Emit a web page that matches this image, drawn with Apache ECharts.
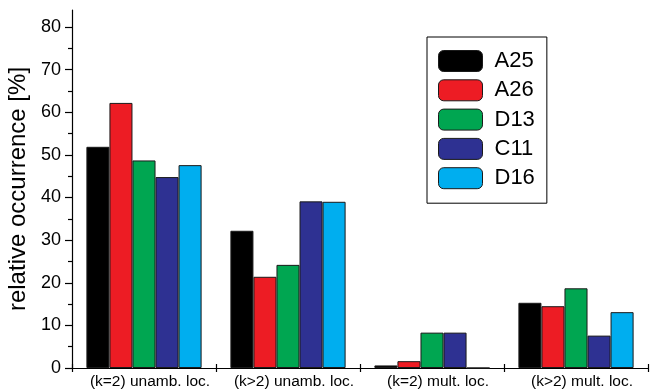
<!DOCTYPE html>
<html>
<head>
<meta charset="utf-8">
<script src="https://cdn.jsdelivr.net/npm/echarts@6/dist/echarts.min.js"></script>
<style>
html,body{margin:0;padding:0;background:#fff;}
#main{width:650px;height:392px;}
</style>
</head>
<body>
<div id="main"></div>
<script>
var categories = ['(k=2) unamb. loc.', '(k>2) unamb. loc.', '(k=2) mult. loc.', '(k>2) mult. loc.'];
var seriesNames = ['A25', 'A26', 'D13', 'C11', 'D16'];
var A25 = [51.9, 32.2, 0.6, 15.3];
var A26 = [62.2, 21.4, 1.6, 14.5];
var D13 = [48.7, 24.2, 8.3, 18.7];
var C11 = [44.8, 39.1, 8.3, 7.6];
var D16 = [47.6, 39.0, 0, 13.1];
var seriesColors = ['#000000', '#ed1c24', '#00a651', '#2e3192', '#00aeef'];
var yMajorTicks = [0, 10, 20, 30, 40, 50, 60, 70, 80];
var yMinorTicks = [5, 15, 25, 35, 45, 55, 65, 75];

var values = [A25, A26, D13, C11, D16];
var font = '"Liberation Sans", Arial, Helvetica, sans-serif';

var chart = echarts.init(document.getElementById('main'), null, {renderer: 'canvas'});
var series = seriesNames.map(function (n, i) {
  return {
    name: n,
    type: 'bar',
    xAxisIndex: 0,
    yAxisIndex: 0,
    data: values[i],
    barGap: '0%',
    barCategoryGap: '20%',
    itemStyle: {color: seriesColors[i], borderColor: '#1a1a1a', borderWidth: 1},
    emphasis: {disabled: true}
  };
});

chart.setOption({
  animation: false,
  backgroundColor: '#ffffff',
  textStyle: {fontFamily: font},
  grid: {left: 72, right: 2, top: 10, bottom: 24, containLabel: false, outerBoundsMode: 'none'},
  legend: {
    orient: 'vertical',
    left: 427,
    top: 37,
    padding: [13, 12, 14, 11],
    itemWidth: 44,
    itemHeight: 21,
    itemGap: 7.3,
    borderColor: '#000',
    borderWidth: 1,
    selectedMode: false,
    data: seriesNames,
    itemStyle: {borderColor: '#1a1a1a', borderWidth: 1},
    textStyle: {fontFamily: font, fontSize: 22, lineHeight: 21, color: '#000', padding: [0, 0, 0, 7]}
  },
  xAxis: [{
    type: 'category',
    data: categories,
    position: 'bottom',
    boundaryGap: true,
    axisLine: {show: true, lineStyle: {color: '#000', width: 1.2}},
    axisTick: {show: true, interval: 0, length: 4, lineStyle: {color: '#000', width: 1.2}},
    axisLabel: {interval: 0, fontFamily: font, fontSize: 15.5, color: '#000', margin: 6, padding: [0, 0, 0, 12]},
    splitLine: {show: false}
  }, {
    type: 'category',
    data: categories,
    position: 'bottom',
    boundaryGap: true,
    axisLine: {show: false},
    axisTick: {show: true, inside: true, interval: 0, length: 4, lineStyle: {color: '#000', width: 1.2}},
    axisLabel: {show: false},
    splitLine: {show: false}
  }],
  yAxis: [{
    type: 'value',
    min: 0,
    max: 84,
    interval: 10,
    name: 'relative occurrence [%]',
    nameLocation: 'middle',
    nameGap: 39,
    nameTextStyle: {fontFamily: font, fontSize: 24, color: '#000'},
    axisLine: {show: true, lineStyle: {color: '#000', width: 1.2}},
    axisTick: {show: true, length: 7, customValues: yMajorTicks, lineStyle: {color: '#000', width: 1.2}},
    axisLabel: {fontFamily: font, fontSize: 18, color: '#000', margin: 11, customValues: yMajorTicks},
    splitLine: {show: false}
  }, {
    type: 'value',
    min: 0,
    max: 84,
    interval: 10,
    position: 'left',
    axisLine: {show: false},
    axisTick: {show: true, length: 4, customValues: yMinorTicks, lineStyle: {color: '#000', width: 1.2}},
    axisLabel: {show: false},
    splitLine: {show: false}
  }],
  series: series
});
</script>
</body>
</html>
